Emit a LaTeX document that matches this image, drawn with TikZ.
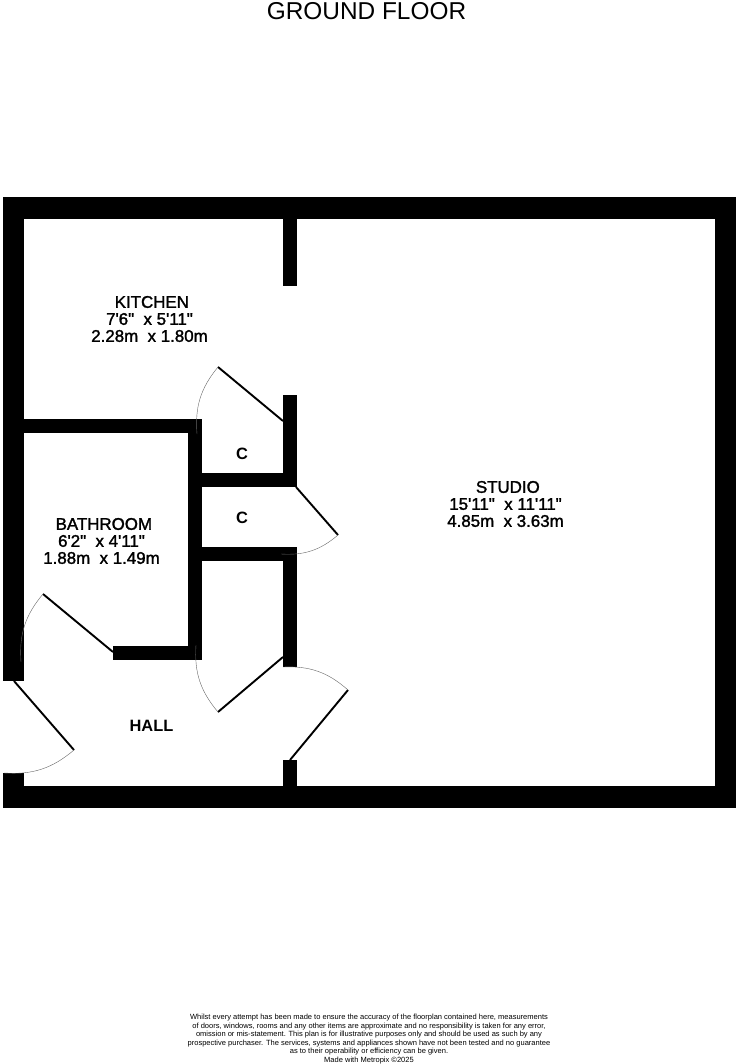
\documentclass[tikz,border=0pt]{standalone}
\usepackage{fontspec}
\newfontfamily\planfont{Liberation Sans}
\newfontfamily\roomfont[FakeBold=1.6]{Liberation Sans}

\tikzset{
  wall/.style={fill=black},
  leaf/.style={line width=1.9pt},
  swing/.style={line width=0.4pt, black!60},
  room/.style={align=center, inner sep=0pt, font=\roomfont\fontsize{16.9}{17}\selectfont},
  cupboard/.style={inner sep=0pt, font=\planfont\bfseries\fontsize{16.4}{17}\selectfont},
  title/.style={inner sep=0pt, font=\planfont\fontsize{24.4}{26}\selectfont},
  small/.style={align=center, inner sep=0pt, font=\planfont\fontsize{7.52}{8.5}\selectfont}
}

\begin{document}
\begin{tikzpicture}[x=1pt,y=-1pt]
\useasboundingbox (0,0) rectangle (744,1064);

\node (floor) at (366.5,11) [title]{GROUND FLOOR};

% outer walls
\fill[wall] (3,197.5) rectangle (736,219);
\fill[wall] (3,786) rectangle (736,807.5);
\fill[wall] (714.5,197.5) rectangle (736,807.5);
\fill[wall] (3,197.5) rectangle (24,681);
\fill[wall] (3,773) rectangle (24,807.5);

% inner walls
\fill[wall] (283,219) rectangle (297,286);
\fill[wall] (283,395) rectangle (297,487);
\fill[wall] (283,547) rectangle (297,667);
\fill[wall] (283,760) rectangle (297,786);
\fill[wall] (24,419) rectangle (201.5,433);
\fill[wall] (187.5,419) rectangle (201.5,660);
\fill[wall] (113,646) rectangle (201.5,660);
\fill[wall] (201,473) rectangle (283,487);
\fill[wall] (201,547) rectangle (283,561);

% doors
\coordinate (kh) at (283,421);
\coordinate (kt) at (218,367);
\coordinate (ke) at (197,434);
\draw[leaf] (kh) -- (kt);
\draw[swing] (kt) to[bend right=22] (ke);

\coordinate (ch) at (296,487);
\coordinate (ct) at (338,535);
\coordinate (ce) at (281,554);
\draw[leaf] (ch) -- (ct);
\draw[swing] (ct) to[bend left=22] (ce);

\coordinate (lh) at (283,657);
\coordinate (lt) at (218,712);
\coordinate (le) at (196,645);
\draw[leaf] (lh) -- (lt);
\draw[swing] (lt) to[bend left=22] (le);

\coordinate (bh) at (113,652);
\coordinate (bt) at (43,594);
\coordinate (be) at (21,662);
\draw[leaf] (bh) -- (bt);
\draw[swing] (bt) to[bend right=22] (be);

\coordinate (eh) at (14,681);
\coordinate (et) at (74,750);
\coordinate (ee) at (4,773);
\draw[leaf] (eh) -- (et);
\draw[swing] (et) to[bend left=22] (ee);

\coordinate (sh) at (290,760);
\coordinate (st) at (348,690);
\coordinate (se) at (283,667);
\draw[leaf] (sh) -- (st);
\draw[swing] (st) to[bend right=22] (se);

% labels
\node (kitchen) at (149.5,319) [room]{\hphantom{.}KITCHEN\\7'6"\ \ x 5'11"\\2.28m\ \ x 1.80m};
\node (studio) at (505.5,504) [room]{\hphantom{.}STUDIO\\15'11"\ \ x 11'11"\\4.85m\ \ x 3.63m};
\node (bathroom) at (101.5,541) [room]{\hphantom{.}BATHROOM\\6'2"\ \ x 4'11"\\1.88m\ \ x 1.49m};
\node (hall) at (151.5,726) [cupboard]{HALL};
\node (c1) at (242,454) [cupboard]{C};
\node (c2) at (242,518) [cupboard]{C};

\node (note) at (369,1039) [small]{Whilst every attempt has been made to ensure the accuracy of the floorplan contained here, measurements\\
of doors, windows, rooms and any other items are approximate and no responsibility is taken for any error,\\
omission or mis-statement. This plan is for illustrative purposes only and should be used as such by any\\
prospective purchaser. The services, systems and appliances shown have not been tested and no guarantee\\
as to their operability or efficiency can be given.\\
Made with Metropix \textcopyright 2025};

\end{tikzpicture}
\end{document}
